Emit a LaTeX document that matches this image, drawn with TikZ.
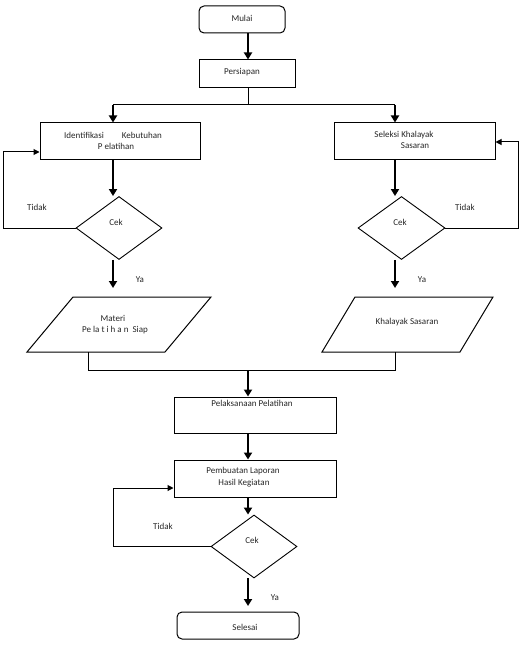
\documentclass[tikz,border=0pt]{standalone}
\usepackage{fontspec}
\setmainfont{Carlito}
\usetikzlibrary{shapes.geometric,arrows.meta}
\begin{document}
\begin{tikzpicture}[x=1pt,y=-1pt,
  box/.style={draw, line width=1pt, rectangle, inner sep=0pt},
  term/.style={box, rounded corners=5pt},
  dec/.style={draw, line width=0.9pt, diamond, inner sep=0pt},
  arr/.style={line width=1.8pt, -{Triangle[length=7pt,width=8pt]}},
  larr/.style={line width=1pt, -{Triangle[length=6pt,width=6pt]}},
  lin/.style={line width=1pt},
  txt/.style={font=\fontsize{9}{11}\selectfont, inner sep=0pt, align=center, text=black!85}]
\useasboundingbox (0,0) rectangle (520,652);
% spine coordinates
\coordinate (cx) at (248,0);
\coordinate (lx) at (113,0);
\coordinate (rx) at (395,0);
% shapes
\node[term, minimum width=86pt, minimum height=27pt] (mulai) at (242,19.5) {};
\node[box, minimum width=96pt, minimum height=28pt] (persiapan) at (247,74) {};
\node[box, minimum width=160pt, minimum height=37pt] (ident) at (120,141.5) {};
\node[box, minimum width=161pt, minimum height=37pt] (seleksi) at (414.5,141.5) {};
\node[dec, minimum width=86pt, minimum height=63pt] (cekL) at (119,228) {};
\node[dec, minimum width=87pt, minimum height=63pt] (cekR) at (401.5,228) {};
\coordinate (mA) at (73,297); \coordinate (mB) at (211,297);
\coordinate (mC) at (165,352); \coordinate (mD) at (27,352);
\draw[lin] (mA) -- (mB) -- (mC) -- (mD) -- cycle;
\coordinate (kA) at (355,297); \coordinate (kB) at (493,297);
\coordinate (kC) at (460,352); \coordinate (kD) at (322,352);
\draw[lin] (kA) -- (kB) -- (kC) -- (kD) -- cycle;
\node[box, minimum width=162pt, minimum height=36pt] (pelak) at (255,415) {};
\node[box, minimum width=162pt, minimum height=37pt] (pembuatan) at (255,478.5) {};
\node[dec, minimum width=86pt, minimum height=63pt] (cekB) at (254,546.5) {};
\node[term, minimum width=122pt, minimum height=27pt] (selesai) at (238,625.5) {};
% texts
\node[txt] (tMulai) at (242,18) {Mulai};
\node[txt] (tPers) at (242,72) {Persiapan};
\node[txt] (tId1) at (113,135) {Identifikasi\hspace{18pt}Kebutuhan};
\node[txt] (tId2) at (116,146) {P elatihan};
\node[txt] (tSel1) at (404,135) {Seleksi Khalayak};
\node[txt] (tSel2) at (415,146) {Sasaran};
\node[txt] (tCekL) at (116,222) {Cek};
\node[txt] (tCekR) at (400,222) {Cek};
\node[txt] (tCekB) at (252,540) {Cek};
\node[txt] (tTidL) at (37,207) {Tidak};
\node[txt] (tTidR) at (465,207) {Tidak};
\node[txt] (tTidB) at (163,526) {Tidak};
\node[txt] (tYaL) at (140,280) {Ya};
\node[txt] (tYaR) at (422,280) {Ya};
\node[txt] (tYaB) at (275,598) {Ya};
\node[txt] (tMat1) at (113,318) {Materi};
\node[txt] (tMat2) at (115,330) {Pe la t i h a n\ \ Siap};
\node[txt] (tKhal) at (407,322) {Khalayak Sasaran};
\node[txt] (tPel) at (252,403) {Pelaksanaan Pelatihan};
\node[txt] (tPem1) at (243,471) {Pembuatan Laporan};
\node[txt] (tPem2) at (244,483) {Hasil Kegiatan};
\node[txt] (tSel) at (245,627) {Selesai};
% connectors
\coordinate (split) at (248,105);
\draw[arr] (mulai.south -| cx) -- (persiapan.north -| cx);
\draw[lin] (persiapan.south -| cx) -- (split);
\draw[lin] (split -| lx) -- (split -| rx);
\draw[arr] (split -| lx) -- (ident.north -| lx);
\draw[arr] (split -| rx) -- (seleksi.north -| rx);
\draw[arr] (ident.south -| lx) -- (cekL.north -| lx);
\draw[arr] (seleksi.south -| rx) -- (cekR.north -| rx);
\coordinate (tipL) at (113,288);
\coordinate (tipR) at (395,288);
\draw[arr] (cekL.south -| lx) -- (tipL);
\draw[arr] (cekR.south -| rx) -- (tipR);
\coordinate (lloop) at (3,152);
\draw[larr] (cekL.west) -| (lloop) -- (ident.west |- lloop);
\coordinate (rloop) at (518,142);
\draw[larr] (cekR.east) -| (rloop) -- (seleksi.east |- rloop);
\coordinate (mergeL) at (88,370);
\coordinate (mergeC) at (248,370);
\draw[lin] (mergeL |- mC) -- (mergeL) -- (mergeL -| rx) -- (rx |- kC);
\draw[arr] (mergeC) -- (pelak.north -| cx);
\draw[arr] (pelak.south -| cx) -- (pembuatan.north -| cx);
\draw[arr] (pembuatan.south -| cx) -- (cekB.north -| cx);
\coordinate (tipB) at (248,606);
\draw[arr] (cekB.south -| cx) -- (tipB);
\coordinate (bloop) at (113,488);
\draw[larr] (cekB.west) -| (bloop) -- (pembuatan.west |- bloop);
\end{tikzpicture}
\end{document}
